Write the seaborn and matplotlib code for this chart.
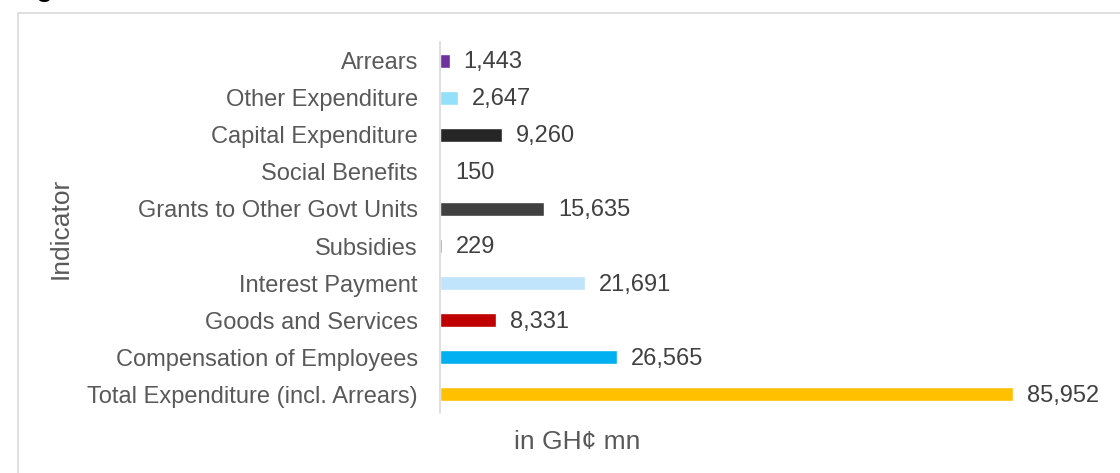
import numpy as np
import pandas as pd
import seaborn as sns
import matplotlib.pyplot as plt
import matplotlib.patches as mpatches

# data
indicators = ['Arrears', 'Other Expenditure', 'Capital Expenditure', 'Social Benefits',
              'Grants to Other Govt Units', 'Subsidies', 'Interest Payment',
              'Goods and Services', 'Compensation of Employees', 'Total Expenditure (incl. Arrears)']
amounts = [1443, 2647, 9260, 150, 15635, 229, 21691, 8331, 26565, 85952]
bar_colors = ['#7030A0', '#92E0FA', '#262626', '#BDD7EE', '#404040',
              '#5B9BD5', '#BFE4FB', '#C00000', '#00B0F0', '#FFC000']

sns.set_style('white')
plt.rcParams['font.family'] = ['Liberation Sans', 'DejaVu Sans']

df = pd.DataFrame({'Indicator': indicators, 'Amount': amounts})

fig = plt.figure(figsize=(11.2, 4.73), dpi=100)
ax = fig.add_axes([0.393, 0.127, 0.585, 0.784])

sns.barplot(data=df, y='Indicator', x='Amount', hue='Indicator', palette=bar_colors,
            order=indicators, hue_order=indicators, width=0.38, legend=False, ax=ax,
            orient='h', saturation=1)

for i, v in enumerate(amounts):
    ax.annotate('{:,}'.format(v), xy=(v, i), xytext=(10, -1), textcoords='offset points',
                va='center', ha='left', fontsize=17, color='#404040')

ax.set_xlim(0, 98300)
ax.set_ylim(len(indicators) - 0.5, -0.5)
ax.set_xticks([])
ax.set_xlabel('')
ax.set_ylabel('')
ax.tick_params(axis='y', length=0, pad=16, labelsize=17, labelcolor='#595959')
for side in ['top', 'right', 'bottom']:
    ax.spines[side].set_visible(False)
ax.spines['left'].set_color('#D9D9D9')
ax.spines['left'].set_linewidth(1.2)

fig.text(0.054, 0.518, 'Indicator', rotation=90, ha='center', va='center',
         fontsize=19, color='#595959')
fig.text(0.515, 0.066, 'in GH¢ mn', ha='center', va='center', fontsize=19, color='#595959')

# chart frame and cropped title
fig.patches.append(mpatches.Rectangle((0.016, -0.01), 1.0, 0.9825, transform=fig.transFigure,
                                      fill=False, edgecolor='#D9D9D9', linewidth=1.2))
fig.text(0.012, 1.0065, 'Figure 5: Resource Allocation for 2016', ha='left', va='baseline',
         fontsize=19, fontweight='bold', color='black')

plt.savefig('out.png', dpi=100)
